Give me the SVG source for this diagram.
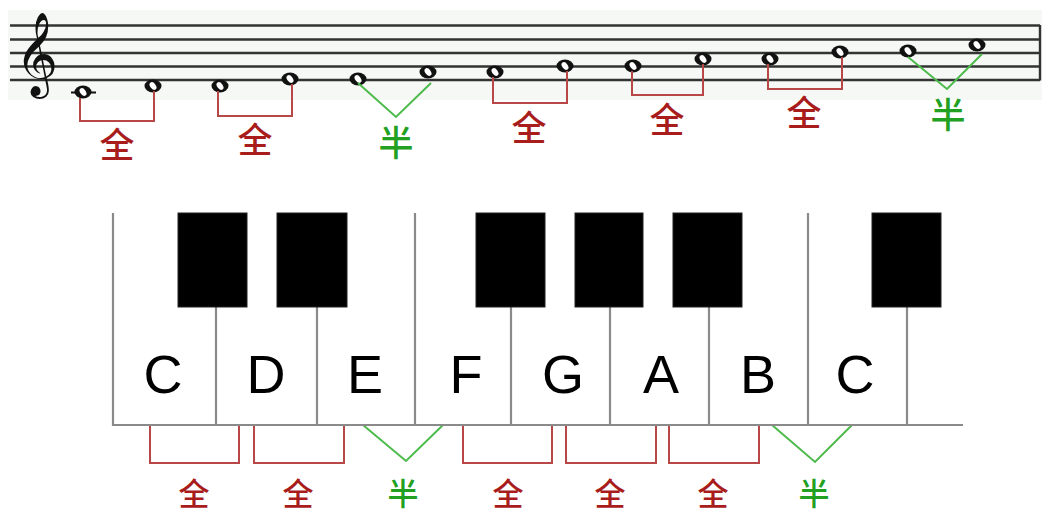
<svg xmlns="http://www.w3.org/2000/svg" xmlns:xlink="http://www.w3.org/1999/xlink" width="1042" height="515" viewBox="0 0 1042 515">
<style>
.staff{stroke:#333;stroke-width:2.4;fill:none}
.red{stroke:#b84848;stroke-width:2;fill:none}
.green{stroke:#4cbb4c;stroke-width:2;fill:none}
.lr{fill:#a81c1c;font-family:"Noto Sans CJK SC","Noto Sans CJK JP",sans-serif;font-size:35px;font-weight:500;text-anchor:middle}
.lg{fill:#22a022;font-family:"Noto Sans CJK SC","Noto Sans CJK JP",sans-serif;font-size:35px;font-weight:500;text-anchor:middle}
.bl{font-size:31px}
.key{stroke:#8a8a8a;stroke-width:2.2;fill:none}
.bk{fill:#000;stroke:#222;stroke-width:1}
.nm{fill:#000;font-family:"Liberation Sans",Arial,sans-serif;font-size:54px;text-anchor:middle}
</style>
<defs>
<g id="note">
<ellipse cx="0" cy="0" rx="8.5" ry="6.4" fill="#111"/>
<ellipse cx="0" cy="0" rx="2.8" ry="4.4" fill="#fff" transform="rotate(-35)"/>
</g>
</defs>
<rect x="0" y="0" width="1042" height="515" fill="#fff"/>
<g id="staff">
<rect x="8" y="10" width="1034" height="90" fill="#f5f8f5"/>
<path class="staff" d="M10 25.5H1040M10 39.5H1040M10 53H1040M10 66.5H1040M10 80H1040M1040 25V80.5"/>
<text x="36" y="78" font-family="DejaVu Sans,sans-serif" font-size="73" text-anchor="middle" fill="#111">𝄞</text>
</g>
<g id="notes">
<path d="M71 92.5H96" stroke="#111" stroke-width="2"/>
<use xlink:href="#note" x="83" y="92"/>
<use xlink:href="#note" x="153" y="86"/>
<use xlink:href="#note" x="220" y="86"/>
<use xlink:href="#note" x="290" y="79"/>
<use xlink:href="#note" x="358" y="79"/>
<use xlink:href="#note" x="428" y="72"/>
<use xlink:href="#note" x="495" y="72"/>
<use xlink:href="#note" x="565" y="66"/>
<use xlink:href="#note" x="633" y="66"/>
<use xlink:href="#note" x="703" y="59"/>
<use xlink:href="#note" x="770" y="59"/>
<use xlink:href="#note" x="840" y="52"/>
<use xlink:href="#note" x="908" y="51"/>
<use xlink:href="#note" x="977" y="45"/>
</g>
<g id="connectors">
<path class="red" d="M80 98V121H154V91"/>
<path class="red" d="M218 91V116H292V84"/>
<path class="green" d="M358 83L396 117L431 83"/>
<path class="red" d="M493 77V103H567V71"/>
<path class="red" d="M632 71V95H703V64"/>
<path class="red" d="M768 64V89H842V57"/>
<path class="green" d="M908 57L947 89L982 54"/>
<path class="red" d="M150 425V463H239V425"/>
<path class="red" d="M254 425V463H344V425"/>
<path class="green" d="M363 425L406 461L443 425"/>
<path class="red" d="M463 425V463H552V425"/>
<path class="red" d="M566 425V463H656V425"/>
<path class="red" d="M669 425V463H759V425"/>
<path class="green" d="M772 425L815 462L852 425"/>
</g>
<g id="top-labels">
<text class="lr" x="117" y="158">全</text>
<text class="lr" x="255" y="153">全</text>
<text class="lg" x="396" y="156">半</text>
<text class="lr" x="529" y="141">全</text>
<text class="lr" x="667" y="133">全</text>
<text class="lr" x="804" y="126">全</text>
<text class="lg" x="948" y="128">半</text>
</g>
<g id="keyboard">
<path class="key" d="M113 213V425H963M216 307V425M317 307V425M415 213V425M511 307V425M610 307V425M709 307V425M808 213V425M907 307V425"/>
<rect class="bk" x="178" y="213" width="69" height="94"/>
<rect class="bk" x="277" y="213" width="70" height="94"/>
<rect class="bk" x="476" y="213" width="69" height="94"/>
<rect class="bk" x="575" y="213" width="68" height="94"/>
<rect class="bk" x="673" y="213" width="69" height="94"/>
<rect class="bk" x="872" y="213" width="69" height="94"/>
</g>
<g id="key-names">
<text class="nm" x="163" y="393">C</text>
<text class="nm" x="266" y="393">D</text>
<text class="nm" x="365" y="393">E</text>
<text class="nm" x="466" y="393">F</text>
<text class="nm" x="563" y="393">G</text>
<text class="nm" x="661" y="393">A</text>
<text class="nm" x="758" y="393">B</text>
<text class="nm" x="855" y="393">C</text>
</g>
<g id="bottom-labels">
<text class="lr bl" x="194" y="505">全</text>
<text class="lr bl" x="298" y="505">全</text>
<text class="lg bl" x="403" y="505">半</text>
<text class="lr bl" x="508" y="505">全</text>
<text class="lr bl" x="610" y="505">全</text>
<text class="lr bl" x="713" y="505">全</text>
<text class="lg bl" x="814" y="505">半</text>
</g>
</svg>
